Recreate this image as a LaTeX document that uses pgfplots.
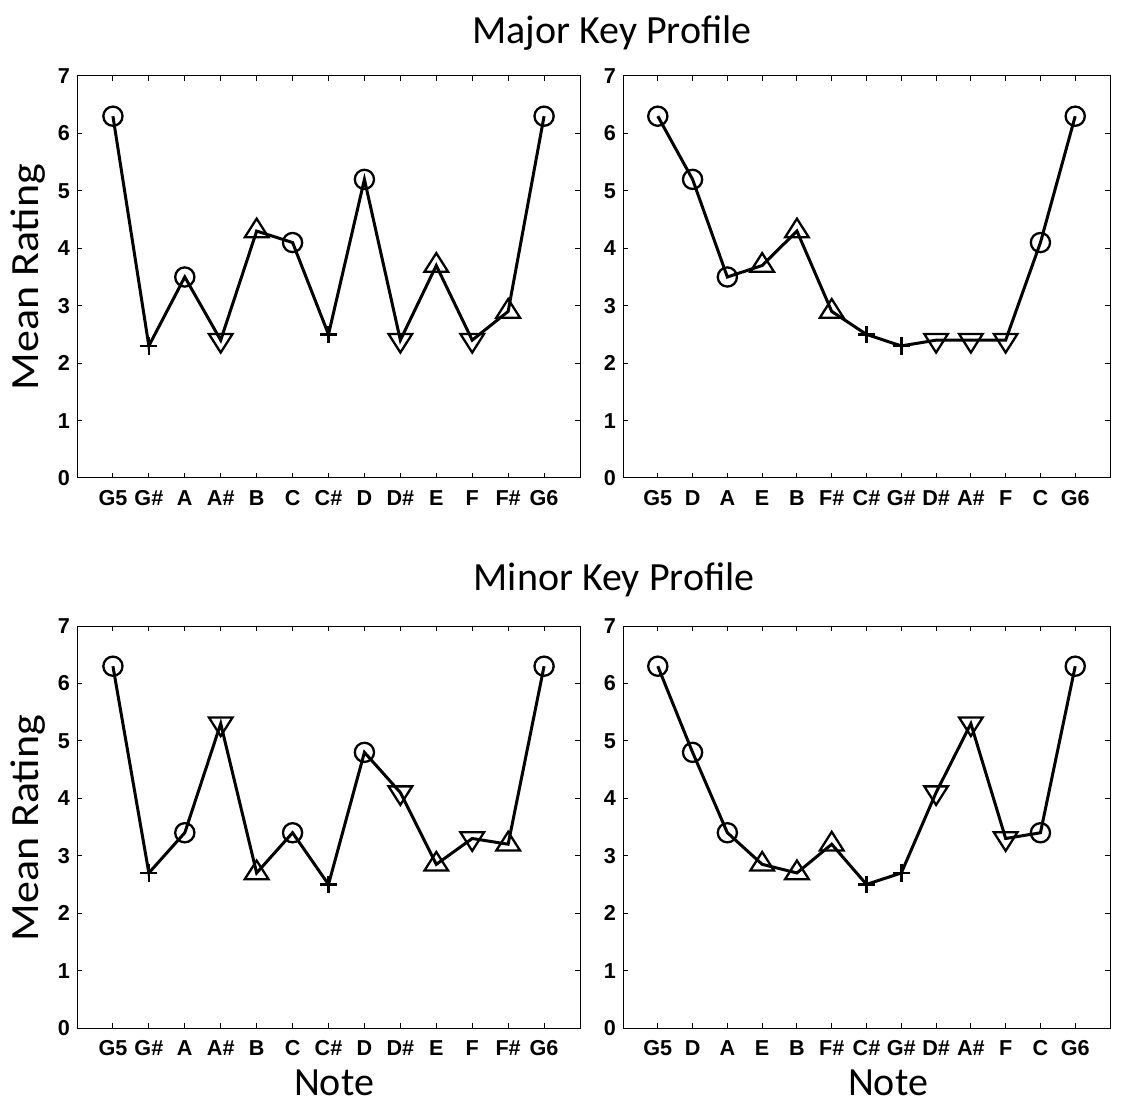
\documentclass[border=0pt]{standalone}
\usepackage{fontspec}
\setmainfont{Liberation Sans}
\newfontfamily\labelfont{Carlito}
\usepackage{pgfplots}
\pgfplotsset{compat=1.18}

% note orders
\def\chromatic{G5,G\#,A,A\#,B,C,C\#,D,D\#,E,F,F\#,G6}
\def\fifths{G5,D,A,E,B,F\#,C\#,G\#,D\#,A\#,F,C,G6}

\pgfplotsset{
  prof/.style={
    scale only axis, height=201pt,
    anchor=south west,
    xmin=0, xmax=14, ymin=0, ymax=7,
    xtick={1,...,13}, ytick={0,...,7},
    tick align=inside, major tick length=2.6pt,
    axis line style={black, line width=0.5pt},
    tick style={black, line width=0.5pt},
    tick label style={font=\bfseries\fontsize{10.8}{12}\selectfont},
    xticklabel style={yshift=-2pt, text height=8.2pt, text depth=0pt},
    /pgf/number format/assume math mode=true,
    clip=false,
  },
  prof line/.style={black, line width=1.5pt, mark=none},
  circ/.style={only marks, mark=o, mark size=4.8pt, mark options={black, line width=1.15pt}},
  plus/.style={only marks, mark=+, mark size=4.3pt, mark options={black, line width=1.3pt}},
  tup/.style={only marks, mark=triangle, mark size=6.2pt, mark options={black, line width=1.15pt, xscale=1.1}},
  tdown/.style={only marks, mark=triangle, mark size=6.2pt, mark options={black, line width=1.15pt, xscale=1.1, rotate=180}},
}
\tikzset{lab/.style={font=\labelfont\fontsize{20}{24}\selectfont}}

\begin{document}
\begin{tikzpicture}
\useasboundingbox (0,0) rectangle (569pt,554.5pt);

% ---------- major, chromatic ----------
\begin{axis}[prof, at={(38.5pt,315.5pt)}, width=251.5pt, xticklabels/.expanded=\chromatic]
  \addplot[prof line] coordinates {(1,6.3) (2,2.3) (3,3.5) (4,2.4) (5,4.3) (6,4.1) (7,2.5) (8,5.2) (9,2.4) (10,3.7) (11,2.4) (12,2.9) (13,6.3)};
  \addplot[circ] coordinates {(1,6.3) (3,3.5) (6,4.1) (8,5.2) (13,6.3)};
  \addplot[plus] coordinates {(2,2.3) (7,2.5)};
  \addplot[tup] coordinates {(5,4.3) (10,3.7) (12,2.9)};
  \addplot[tdown] coordinates {(4,2.4) (9,2.4) (11,2.4)};
\end{axis}

% ---------- major, circle of fifths ----------
\begin{axis}[prof, at={(311.5pt,315.5pt)}, width=243.5pt, xticklabels/.expanded=\fifths]
  \addplot[prof line] coordinates {(1,6.3) (2,5.2) (3,3.5) (4,3.7) (5,4.3) (6,2.9) (7,2.5) (8,2.3) (9,2.4) (10,2.4) (11,2.4) (12,4.1) (13,6.3)};
  \addplot[circ] coordinates {(1,6.3) (2,5.2) (3,3.5) (12,4.1) (13,6.3)};
  \addplot[plus] coordinates {(7,2.5) (8,2.3)};
  \addplot[tup] coordinates {(4,3.7) (5,4.3) (6,2.9)};
  \addplot[tdown] coordinates {(9,2.4) (10,2.4) (11,2.4)};
\end{axis}

% ---------- minor, chromatic ----------
\begin{axis}[prof, at={(38.5pt,40.5pt)}, width=251.5pt, xticklabels/.expanded=\chromatic]
  \addplot[prof line] coordinates {(1,6.3) (2,2.7) (3,3.4) (4,5.3) (5,2.7) (6,3.4) (7,2.5) (8,4.8) (9,4.1) (10,2.85) (11,3.3) (12,3.2) (13,6.3)};
  \addplot[circ] coordinates {(1,6.3) (3,3.4) (6,3.4) (8,4.8) (13,6.3)};
  \addplot[plus] coordinates {(2,2.7) (7,2.5)};
  \addplot[tup] coordinates {(5,2.7) (10,2.85) (12,3.2)};
  \addplot[tdown] coordinates {(4,5.3) (9,4.1) (11,3.3)};
\end{axis}

% ---------- minor, circle of fifths ----------
\begin{axis}[prof, at={(311.5pt,40.5pt)}, width=243.5pt, xticklabels/.expanded=\fifths]
  \addplot[prof line] coordinates {(1,6.3) (2,4.8) (3,3.4) (4,2.85) (5,2.7) (6,3.2) (7,2.5) (8,2.7) (9,4.1) (10,5.3) (11,3.3) (12,3.4) (13,6.3)};
  \addplot[circ] coordinates {(1,6.3) (2,4.8) (3,3.4) (12,3.4) (13,6.3)};
  \addplot[plus] coordinates {(7,2.5) (8,2.7)};
  \addplot[tup] coordinates {(4,2.85) (5,2.7) (6,3.2)};
  \addplot[tdown] coordinates {(9,4.1) (10,5.3) (11,3.3)};
\end{axis}

% titles and labels
\node[lab] at (306pt,538pt) {Major Key Profile};
\node[lab] at (307pt,264.5pt) {Minor Key Profile};
\node[lab, rotate=90, xscale=1.1] at (14pt,416pt) {Mean Rating};
\node[lab, rotate=90, xscale=1.1] at (14pt,140.5pt) {Mean Rating};
\node[lab] at (167pt,13pt) {Note};
\node[lab] at (444pt,13pt) {Note};
\end{tikzpicture}
\end{document}
